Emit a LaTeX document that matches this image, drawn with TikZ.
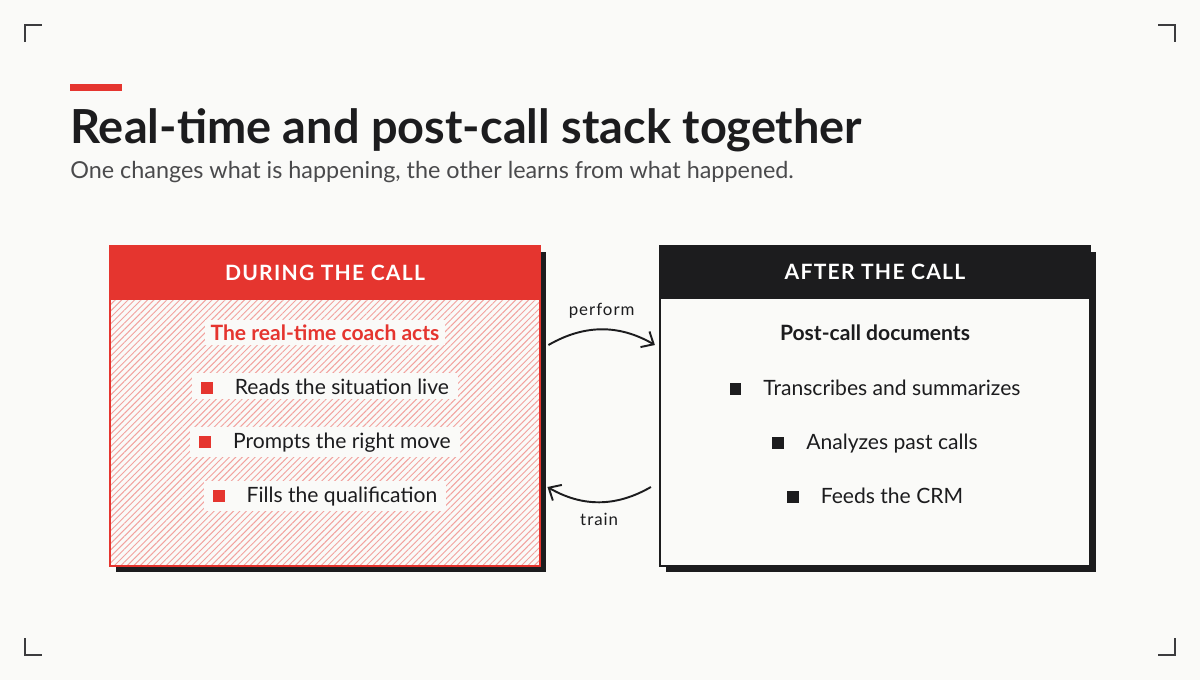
\documentclass[tikz,border=0pt]{standalone}
\usepackage{fontspec}
\setmainfont{Lato}
\newfontfamily\spacedfont[LetterSpace=6]{Lato}
\usepackage{xcolor}
\usetikzlibrary{arrows.meta,positioning,patterns.meta,shadows}
\definecolor{Ink}{HTML}{1C1C1E}
\definecolor{InkMuted}{HTML}{4A4A4C}
\definecolor{Red}{HTML}{E5352F}
\definecolor{Hatch}{HTML}{F2A29E}
\definecolor{Paper}{HTML}{FAFAF8}
\definecolor{Mark}{HTML}{3C3C3E}
\tikzset{
  panel/.style={draw=#1,line width=1.6pt,minimum width=8.6cm,minimum height=6.4cm,drop shadow={opacity=1,fill=Ink,shadow xshift=0.12cm,shadow yshift=-0.12cm}},
  hatched/.style={preaction={fill=Paper},pattern={Lines[angle=45,distance=2.6pt,line width=0.55pt]},pattern color=Hatch},
  header/.style={fill=#1,minimum width=8.6cm,minimum height=1.08cm,anchor=north,text=white,font=\spacedfont\bfseries\fontsize{12}{14}\selectfont},
  lead/.style={fill=Paper,anchor=base,inner xsep=3pt,inner ysep=2.5pt,font=\bfseries\fontsize{12}{14}\selectfont},
  item/.style={fill=Paper,anchor=base,inner xsep=5pt,inner ysep=3pt,text=Ink,font=\fontsize{12}{14}\selectfont},
  flow/.style={-{Straight Barb[length=2mm,width=3.6mm]},line width=1.1pt,color=Ink},
  tag/.style={inner sep=1pt,text=Ink,font=\spacedfont\fontsize{9.6}{11}\selectfont},
  corner/.style={line width=1.1pt,color=Mark}
}
\newcommand{\sqmark}[1]{{\color{#1}\rule{6.8pt}{6.8pt}}\hspace{12.5pt}}

\begin{document}
\begin{tikzpicture}[x=0.02cm,y=-0.02cm]
  \fill[Paper] (0,0) rectangle (1200,680);
  \useasboundingbox (0,0) rectangle (1200,680);
  % corner marks
  \draw[corner] (25,42) -- (25,25) -- (42,25);
  \draw[corner] (1158,25) -- (1175,25) -- (1175,42);
  \draw[corner] (25,638) -- (25,655) -- (42,655);
  \draw[corner] (1158,655) -- (1175,655) -- (1175,638);
  % heading
  \fill[Red] (70,84) rectangle (122,91);
  \node[anchor=base west,inner sep=0,text=Ink,font=\bfseries\fontsize{26.7}{30}\selectfont] (title) at (70,143) {Real-time and post-call stack together};
  \node[anchor=base west,inner sep=0,text=InkMuted,font=\fontsize{13.3}{16}\selectfont] (subtitle) at (70,178) {One changes what is happening, the other learns from what happened.};
  % during the call
  \node[panel=Red,hatched] (during) at (325,406) {};
  \node[header=Red] (duringhead) at (during.north) {DURING THE CALL};
  \node[lead,text=Red] (coach) at (325,340) {The real-time coach acts};
  \foreach \n/\y/\t in {reads/394/Reads the situation live,prompts/448/Prompts the right move,fills/502/Fills the qualification}
    \node[item] (\n) at (325,\y) {\sqmark{Red}\t};
  % after the call
  \node[panel=Ink,line width=1.3pt,fill=Paper] (after) at (875,406) {};
  \node[header=Ink] (afterhead) at (after.north) {AFTER THE CALL};
  \node[lead,text=Ink] (docs) at (875,340) {Post-call documents};
  \foreach \n/\y/\t in {transcribes/395/Transcribes and summarizes,analyzes/449/Analyzes past calls,feeds/503/Feeds the CRM}
    \node[item] (\n) at (875,\y) {\sqmark{Ink}\t};
  % loop between the two
  \draw[flow] ([shift={(8,-61)}]during.east) to[bend left=30] node[tag,midway,above=5pt] (perform) {perform} ([shift={(-4,-61)}]after.west);
  \draw[flow] ([shift={(-8,81)}]after.west) to[bend left=30] node[tag,midway,below=5pt] (train) {train} ([shift={(7,81)}]during.east);
\end{tikzpicture}
\end{document}
